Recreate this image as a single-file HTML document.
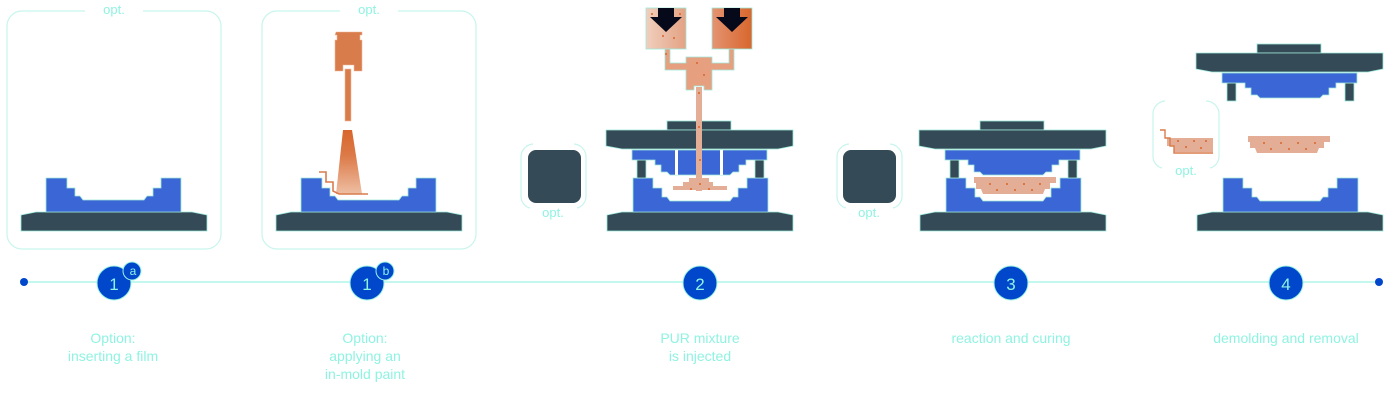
<!DOCTYPE html>
<html><head><meta charset="utf-8"><style>
html,body{margin:0;padding:0;background:#fff}
svg{display:block}
text{font-family:"Liberation Sans",sans-serif;fill:#8ff3e2}
</style></head><body>
<svg width="1388" height="415" viewBox="0 0 1388 415" xmlns="http://www.w3.org/2000/svg">
<defs>
<linearGradient id="cone" x1="0" y1="0" x2="0" y2="1"><stop offset="0" stop-color="#d8662c"/><stop offset="0.4" stop-color="#dc7a48"/><stop offset="1" stop-color="#eebfa4"/></linearGradient>
<linearGradient id="hl" x1="0" y1="0" x2="1" y2="0"><stop offset="0" stop-color="#f0cfbe"/><stop offset="1" stop-color="#e3a283"/></linearGradient>
<linearGradient id="hr" x1="0" y1="0" x2="1" y2="0"><stop offset="0" stop-color="#e49472"/><stop offset="1" stop-color="#d8662c"/></linearGradient>
</defs>
<g stroke="#c8f5ec" stroke-width="1.2" fill="none">
<path d="M85,11 H22 a15,15 0 0 0 -15,15 V234 a15,15 0 0 0 15,15 H206 a15,15 0 0 0 15,-15 V26 a15,15 0 0 0 -15,-15 H143"/>
<path d="M340,11 H277 a15,15 0 0 0 -15,15 V234 a15,15 0 0 0 15,15 H461 a15,15 0 0 0 15,-15 V26 a15,15 0 0 0 -15,-15 H398"/>
<path d="M530,208 a12,12 0 0 1 -9,-12 V156 a13,13 0 0 1 12,-12 M574,144 a13,13 0 0 1 12,12 V196 a12,12 0 0 1 -9,12"/>
<path d="M846,208 a12,12 0 0 1 -9,-12 V156 a13,13 0 0 1 12,-12 M890,144 a13,13 0 0 1 12,12 V196 a12,12 0 0 1 -9,12"/>
<path d="M1162,168 a12,12 0 0 1 -9,-12 V114 a13,13 0 0 1 12,-13 M1206,101 a13,13 0 0 1 13,13 V156 a12,12 0 0 1 -9,12"/>
</g>
<g font-size="13" text-anchor="middle"><text x="114" y="14">opt.</text><text x="369" y="14">opt.</text><text x="553" y="217">opt.</text><text x="869" y="217">opt.</text><text x="1186" y="175">opt.</text></g>
<g fill="#344a56"><rect x="528" y="150" width="53" height="53" rx="8"/><rect x="843" y="150" width="53" height="53" rx="8"/></g>

<!-- bases panels 1a,1b -->
<g fill="#344a56" stroke="#9ee8da" stroke-width="0.8">
<polygon points="21,215 36,212 192,212 207,215 207,231 21,231"/>
<polygon points="276,215 291,212 447,212 462,215 462,231 276,231"/>
</g>
<g fill="#3a66d6" stroke="#9ee8da" stroke-width="0.8">
<polygon points="46,178 67,178 67,188 75,188 75,196 80,196 83,200 144,200 147,196 153,196 153,188 161,188 161,178 181,178 181,212 46,212"/>
<polygon points="301,178 322,178 322,188 330,188 330,196 335,196 338,200 399,200 402,196 408,196 408,188 416,188 416,178 436,178 436,212 301,212"/>
</g>

<!-- reusable mold parts -->
<defs>
<g id="lower">
<polygon fill="#344a56" stroke="#9ee8da" stroke-width="0.8" points="607,215 622,212 778,212 793,215 793,231 607,231"/>
<polygon fill="#3a66d6" stroke="#9ee8da" stroke-width="0.8" points="633,178 653,178 653,188 662,188 662,197 667,197 670,201 730,201 733,197 738,197 738,188 747,188 747,178 768,178 768,212 633,212"/>
</g>
<g id="upper">
<g fill="#344a56" stroke="#9ee8da" stroke-width="0.8">
<rect x="667" y="121" width="64" height="9"/>
<polygon points="606,130 793,130 793,146 778,149 622,149 606,146"/>
<rect x="637" y="160" width="9" height="18"/><rect x="755" y="160" width="9" height="18"/>
</g>
<polygon fill="#3a66d6" stroke="#9ee8da" stroke-width="0.8" points="632,150 767,150 767,160 746,160 746,165 739,165 739,172 733,172 730,175 670,175 667,172 661,172 661,165 655,165 655,160 632,160"/>
</g>
<polygon id="part" fill="#e4ad95" points="661,177 743,177 743,183 737,183 737,189 732,189 730,194 670,194 668,189 663,189 663,183 661,183"/>
</defs>

<use href="#lower"/><use href="#upper"/>
<g fill="#fff"><rect x="675" y="150" width="3" height="25"/><rect x="720" y="150" width="3" height="25"/></g>
<use href="#lower" transform="translate(313,0)"/><use href="#upper" transform="translate(313,0)"/>
<use href="#part" transform="translate(313,0)"/>
<use href="#lower" transform="translate(590,0)"/><use href="#upper" transform="translate(590,-77)"/>
<use href="#part" transform="translate(587,-41)"/>

<!-- panel 1b spray -->
<g fill="#d97c4c" stroke="#f0b89c" stroke-width="0.6">
<polygon points="336,32 362,32 362,35 360,35 360,40 362,40 362,71 354,71 354,65 343,65 343,71 335,71 335,40 337,40 337,35 335,35"/>
<rect x="345" y="69" width="6" height="52"/>
</g>
<polygon points="343,130 352,130 362,194 336,194" fill="url(#cone)"/>
<polyline points="319,172 326,172 326,182 333,182 333,191 339,194 368,194" fill="none" stroke="#d97c4c" stroke-width="1.6"/>

<!-- panel 2 injection -->
<g stroke="#9ee8da" stroke-width="0.8">
<rect x="646" y="8" width="40" height="41" fill="url(#hl)"/>
<rect x="712" y="8" width="40" height="41" fill="url(#hr)"/>
<polygon points="665,49 670,49 670,63 686,63 686,57 712,57 712,63 729,63 729,49 734,49 734,70 712,70 712,90 704,90 704,86 694,86 694,90 686,90 686,70 665,70" fill="#e6a080"/>
</g>
<rect x="696" y="87" width="6" height="104" fill="#e4ad95"/>
<polygon points="689,178 709,178 709,182 713,182 713,186 727,186 727,190 673,190 673,186 683,186 683,182 689,182" fill="#e4ad95"/>
<g fill="#06091a"><polygon points="658,8 674,8 674,17 682,17 666,32 650,17 658,17"/><polygon points="724,8 740,8 740,17 748,17 732,32 716,17 724,17"/></g>
<g fill="#d8662c"><circle cx="652" cy="14" r="1"/><circle cx="680" cy="14" r="1"/><circle cx="663" cy="36" r="1"/><circle cx="674" cy="38" r="1"/><circle cx="666" cy="54" r="1"/><circle cx="697" cy="63" r="1"/><circle cx="704" cy="75" r="1"/><circle cx="699" cy="93" r="1"/><circle cx="699" cy="127" r="1"/><circle cx="700" cy="160" r="1"/><circle cx="700" cy="184" r="1"/><circle cx="691" cy="189" r="1"/><circle cx="709" cy="189" r="1"/></g>

<!-- panel 4 opt part -->
<polygon points="1167,138 1213,138 1213,152 1174,152 1174,146 1167,146" fill="#e4ad95"/>
<polyline points="1160,130 1165,130 1165,138 1170,138 1170,146 1174,146 1174,153 1213,153" fill="none" stroke="#d97c4c" stroke-width="1.4"/>
<g fill="#d8662c">
<circle cx="990" cy="184" r="1"/><circle cx="1007" cy="184" r="1"/><circle cx="1024" cy="184" r="1"/><circle cx="1040" cy="184" r="1"/><circle cx="997" cy="190" r="1"/><circle cx="1015" cy="190" r="1"/><circle cx="1032" cy="190" r="1"/>
<circle cx="1264" cy="143" r="1"/><circle cx="1281" cy="143" r="1"/><circle cx="1298" cy="143" r="1"/><circle cx="1315" cy="143" r="1"/><circle cx="1271" cy="149" r="1"/><circle cx="1289" cy="149" r="1"/><circle cx="1306" cy="149" r="1"/>
<circle cx="1178" cy="141" r="1"/><circle cx="1194" cy="141" r="1"/><circle cx="1206" cy="141" r="1"/><circle cx="1186" cy="147" r="1"/><circle cx="1201" cy="148" r="1"/></g>

<!-- timeline -->
<line x1="24" y1="282" x2="1379" y2="282" stroke="#9ef3e2" stroke-width="1.2"/>
<g fill="#0047cc"><circle cx="24" cy="282" r="4"/><circle cx="1379" cy="282" r="4"/></g>
<g fill="#0047cc" stroke="#9ef3e2" stroke-width="1">
<circle cx="114" cy="283" r="17"/><circle cx="132" cy="271" r="9"/>
<circle cx="367" cy="283" r="17"/><circle cx="385" cy="271" r="9"/>
<circle cx="700" cy="283" r="17"/><circle cx="1011" cy="283" r="17"/><circle cx="1286" cy="283" r="17"/>
</g>
<g text-anchor="middle" font-size="17"><text x="114" y="290">1</text><text x="367" y="290">1</text><text x="700" y="290">2</text><text x="1011" y="290">3</text><text x="1286" y="290">4</text></g>
<g text-anchor="middle" font-size="12"><text x="133" y="275">a</text><text x="386" y="275">b</text></g>
<g text-anchor="middle" font-size="14">
<text x="113" y="343">Option:</text><text x="113" y="361">inserting a film</text>
<text x="365" y="343">Option:</text><text x="365" y="361">applying an</text><text x="365" y="379">in-mold paint</text>
<text x="700" y="343">PUR mixture</text><text x="700" y="361">is injected</text>
<text x="1011" y="343">reaction and curing</text>
<text x="1286" y="343">demolding and removal</text>
</g>
</svg>
</body></html>
